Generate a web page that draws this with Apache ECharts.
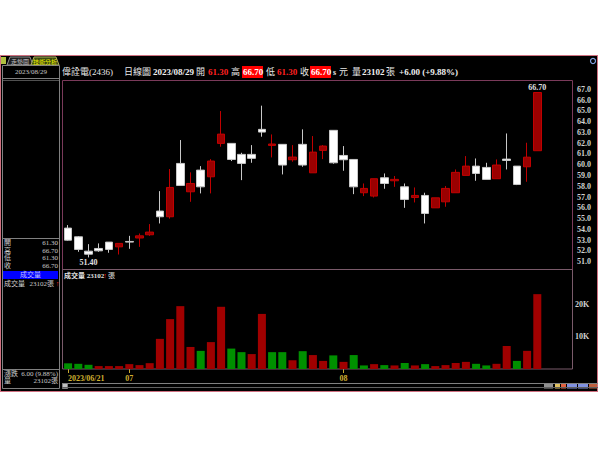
<!DOCTYPE html>
<html>
<head>
<meta charset="utf-8">
<script src="https://cdn.jsdelivr.net/npm/echarts/dist/echarts.min.js"></script>
<style>
html,body{margin:0;padding:0;background:#ffffff;}
#wrap{position:relative;width:600px;height:450px;}
#win{position:absolute;left:0;top:55px;width:596px;height:335px;background:#000;border:1px solid #d07080;}
#chart{position:absolute;left:0;top:0;width:600px;height:450px;}
</style>
</head>
<body>
<div id="wrap"><div id="win"></div><div id="chart"></div></div>
<script>
// ---------- data ----------
const dates = ['2023/06/21','2023/06/26','2023/06/27','2023/06/28','2023/06/29','2023/06/30',
  '2023/07/03','2023/07/04','2023/07/05','2023/07/06','2023/07/07','2023/07/10','2023/07/11','2023/07/12',
  '2023/07/13','2023/07/14','2023/07/17','2023/07/18','2023/07/19','2023/07/20','2023/07/21','2023/07/24',
  '2023/07/25','2023/07/26','2023/07/27','2023/07/28','2023/07/31',
  '2023/08/01','2023/08/02','2023/08/04','2023/08/07','2023/08/08','2023/08/09','2023/08/10','2023/08/11',
  '2023/08/14','2023/08/15','2023/08/16','2023/08/17','2023/08/18','2023/08/21','2023/08/22','2023/08/23',
  '2023/08/24','2023/08/25','2023/08/28','2023/08/29'];
const opens  = [54.12,53.31,51.98,52.23,52.82,52.38,52.88,53.20,53.50,55.70,55.17,60.12,57.49,59.50,58.88,61.98,61.98,60.96,60.96,63.28,61.79,61.89,60.46,61.89,59.25,61.33,63.19,60.86,60.49,57.40,57.09,58.79,58.51,57.95,56.96,57.15,56.00,56.56,57.40,59.01,59.87,59.75,58.70,60.52,59.87,59.81,61.30];
const closes = [53.00,52.14,51.70,52.01,52.14,52.70,52.82,53.40,53.75,55.17,57.89,58.08,58.26,57.95,60.34,62.84,60.49,60.12,60.59,63.03,61.92,59.97,60.71,59.97,61.17,61.73,60.18,60.46,57.95,57.80,58.70,58.26,58.64,56.78,57.15,55.48,56.93,57.80,59.29,59.87,59.19,58.64,59.97,60.40,58.17,60.70,66.70];
const lows   = [52.95,51.92,51.40,51.92,51.83,51.67,52.20,52.38,53.40,54.55,55.00,58.08,56.56,57.34,57.34,61.67,60.34,58.57,60.18,62.60,60.68,59.10,60.28,59.81,59.25,60.52,60.09,59.44,57.27,57.09,56.96,57.77,57.95,56.00,56.50,54.55,56.00,56.10,57.40,59.01,58.51,58.64,58.70,59.56,58.11,58.42,61.30];
const highs  = [54.40,53.37,52.63,52.70,52.82,52.70,53.40,53.62,54.49,57.55,59.60,62.29,59.29,59.87,60.52,64.98,61.98,61.11,61.82,65.48,62.81,61.89,61.82,63.28,62.66,61.82,63.19,61.73,60.49,58.26,58.70,59.19,58.95,58.26,57.89,57.40,56.93,58.02,59.56,60.80,60.58,60.18,60.49,62.90,59.87,62.04,66.70];
const volumes = [1750,1600,1300,900,900,900,1500,1200,1800,9300,15400,19400,6800,5600,8300,19200,6300,5200,4600,17000,5200,5200,2700,5500,4300,2500,4200,2200,4300,1100,1500,1200,1100,1850,1100,1500,900,1200,1850,2200,1600,1100,1600,7100,2500,5600,23102];
const tickIdx  = [0, 6, 27];
const tickText = ['2023/06/21', '07', '08'];
const priceTicks = [51,52,53,54,55,56,57,58,59,60,61,62,63,64,65,66,67];
const volTickText = {10000:'10K', 20000:'20K'};

// ---------- chart ----------
const RED='#9a0000', RED_B='#c00000', GREEN='#009000';
const FONT='"Liberation Serif","Noto Sans CJK TC",serif';
const chart = echarts.init(document.getElementById('chart'), null, {renderer:'svg'});

const candleData = opens.map((o,i)=>[o, closes[i], lows[i], highs[i]]);
const volData = volumes.map((v,i)=>{
  const up = i===0 ? closes[0]>=opens[0] : closes[i]>=closes[i-1];
  return {value:v, itemStyle:{color: up?'#a00000':GREEN}};
});

function txt(x,y,text,opt){
  opt = opt||{};
  return {type:'text', x:x, y:y, z:100, silent:true, style:{
    text:text, fill:opt.fill||'#e0e0e0',
    font:(opt.bold===false?'':'bold ')+(opt.size||9)+'px '+FONT,
    align:opt.align||'left', verticalAlign:'middle'}};
}
function rect(x,y,w,h,fill,stroke,z){
  return {type:'rect', z:z||1, silent:true, shape:{x:x,y:y,width:w,height:h},
    style:{fill:fill||'none', stroke:stroke||null, lineWidth:1}};
}
function line(x1,y1,x2,y2,c){
  return {type:'line', z:5, silent:true, shape:{x1:x1,y1:y1,x2:x2,y2:y2}, style:{stroke:c, lineWidth:1}};
}

const showTick = (i)=>tickIdx.indexOf(i)>=0;

const graphics = [
  // tabs
  rect(1,57,5,7,'#b0c040',null,2),
  {type:'polygon', z:2, silent:true, shape:{points:[[7,65],[10,57],[30,57],[33,65]]}, style:{fill:'#202020',stroke:'#909090'}},
  {type:'polygon', z:2, silent:true, shape:{points:[[31,65],[34,57],[56,57],[59,65]]}, style:{fill:'#3a4a10',stroke:'#b0b060'}},
  txt(20,61.5,'走勢圖',{size:6,fill:'#c0c0c0',bold:false,align:'center'}),
  txt(45,61.5,'技術分析',{size:6,fill:'#f0f000',bold:false,align:'center'}),
  {type:'circle', z:2, silent:true, shape:{cx:593,cy:61,r:2.5}, style:{fill:'none',stroke:'#80a0e0',lineWidth:1.2}},
  // left panel
  rect(2.5,65.5,57,323,null,'#808080',2),
  line(3,78.5,59,78.5,'#808080'),
  line(3,80.5,59,80.5,'#505050'),
  txt(31,72,'2023/08/29',{size:7,fill:'#c8c8c8',bold:false,align:'center'}),
  line(3,238.5,59,238.5,'#808080'),
  txt(4,243,'開',{size:7,bold:false,fill:'#d0d0d0'}), txt(58,243,'61.30',{size:7,bold:false,align:'right',fill:'#c8c8c8'}),
  txt(4,250.5,'高',{size:7,bold:false,fill:'#d0d0d0'}), txt(58,250.5,'66.70',{size:7,bold:false,align:'right',fill:'#c8c8c8'}),
  txt(4,258,'低',{size:7,bold:false,fill:'#d0d0d0'}), txt(58,258,'61.30',{size:7,bold:false,align:'right',fill:'#c8c8c8'}),
  txt(4,265.5,'收',{size:7,bold:false,fill:'#d0d0d0'}), txt(58,265.5,'66.70',{size:7,bold:false,align:'right',fill:'#c8c8c8'}),
  rect(3,271,55,8,'#0000ff',null,3),
  txt(30.5,275,'成交量',{size:7,bold:false,align:'center',fill:'#c0c0ff'}),
  txt(4,283.5,'成交量',{size:7,bold:false,fill:'#d0d0d0'}),
  txt(54,283.5,'23102張',{size:7,bold:false,align:'right',fill:'#c8c8c8'}),
  txt(57.5,283.5,'↑',{size:7,align:'center',fill:'#ff2020'}),
  line(3,369.5,59,369.5,'#808080'),
  txt(4,373.5,'漲跌',{size:7,bold:false,fill:'#d0d0d0'}), txt(58,373.5,'6.00 (9.88%)',{size:7,bold:false,align:'right',fill:'#c8c8c8'}),
  txt(4,380.5,'量',{size:7,bold:false,fill:'#d0d0d0'}), txt(58,380.5,'23102張',{size:7,bold:false,align:'right',fill:'#c8c8c8'}),
  // title row
  txt(62,72,'偉詮電(2436)',{size:9,bold:false,fill:'#e8e8e8'}),
  txt(124,72,'日線圖',{size:9,bold:false,fill:'#e8e8e8'}),
  txt(153,72,'2023/08/29',{size:9,fill:'#f0f0f0'}),
  txt(196,72,'開',{size:9,bold:false,fill:'#e8e8e8'}),
  txt(208,72,'61.30',{size:9,fill:'#ff2020'}),
  txt(231,72,'高',{size:9,bold:false,fill:'#e8e8e8'}),
  rect(242,66,21,12,'#ff0000',null,3),
  txt(243,72,'66.70',{size:9,fill:'#ffffff'}),
  txt(266,72,'低',{size:9,bold:false,fill:'#e8e8e8'}),
  txt(277,72,'61.30',{size:9,fill:'#ff2020'}),
  txt(300,72,'收',{size:9,bold:false,fill:'#e8e8e8'}),
  rect(310,66,21,12,'#ff0000',null,3),
  txt(311,72,'66.70',{size:9,fill:'#ffffff'}),
  txt(333,72,'s',{size:8,fill:'#e8e8e8'}),
  txt(339,72,'元',{size:9,bold:false,fill:'#e8e8e8'}),
  txt(352,72,'量',{size:9,bold:false,fill:'#e8e8e8'}),
  txt(362,72,'23102',{size:9,fill:'#f0f0f0'}),
  txt(386,72,'張',{size:9,bold:false,fill:'#e8e8e8'}),
  txt(399,72,'+6.00 (+9.88%)',{size:9,fill:'#f0f0f0'}),
  // panel borders
  rect(62.5,80.5,510,189,null,'#7a3a5a',2),
  rect(62.5,269.5,510,99.5,null,'#7a5a6a',2),
  // volume title
  txt(64,275.5,'成交量 23102',{size:7,fill:'#e0e0e0'}),
  txt(105,275.5,'↑',{size:7,fill:'#ff2020',align:'center'}),
  txt(108,275.5,'張',{size:7,bold:false,fill:'#e0e0e0'}),
  // scrollbar
  line(62,383.5,598,383.5,'#808080'),
  line(62,387.5,598,387.5,'#606060'),
  rect(62.5,383.5,5,5,'#c0c0c0','#808080',3),
  rect(544,383.5,9,5,'#909090',null,3),
  rect(555,383.5,5,5,'#e0c060',null,3),
  rect(561,383.5,5,5,'#e06040',null,3),
  rect(567,383.5,10,5,'#8090e0',null,3),
  rect(578,383.5,10,5,'#8090e0',null,3),
  rect(589,383.5,8,5,'#c06040',null,3)
];

const option = {
  animation:false,
  backgroundColor:'transparent',
  graphic: graphics,
  grid:[
    {left:63, top:78.5, width:510, height:194},
    {left:63, top:271.8, width:510, height:97.2}
  ],
  xAxis:[
    {type:'category', gridIndex:0, data:dates, max:49, boundaryGap:true, show:false},
    {type:'category', gridIndex:1, data:dates, max:49, boundaryGap:true,
      axisLine:{show:false},
      axisTick:{show:true, interval:(i)=>showTick(i), alignWithLabel:true, length:4, lineStyle:{color:'#c8a830'}},
      axisLabel:{show:true, interval:(i)=>showTick(i), formatter:(v,i)=>{const k=tickIdx.indexOf(i); return k>=0?tickText[k]:'';},
        color:'#d0b030', fontSize:8, fontWeight:'bold', fontFamily:FONT, margin:5, alignMinLabel:'left'},
      splitLine:{show:false}}
  ],
  yAxis:[
    {type:'value', gridIndex:0, position:'right', min:50, max:68, interval:1,
      axisLine:{show:false}, axisTick:{show:false}, splitLine:{show:false},
      axisLabel:{formatter:(v)=>priceTicks.indexOf(Math.round(v*10)/10)>=0?v.toFixed(1):'', color:'#d0d0d0', fontSize:8, fontWeight:'bold', fontFamily:FONT, margin:4}},
    {type:'value', gridIndex:1, position:'right', min:0, max:30000, interval:10000,
      axisLine:{show:false}, axisTick:{show:false}, splitLine:{show:false},
      axisLabel:{formatter:(v)=>volTickText[v]||'', color:'#d0d0d0', fontSize:8, fontWeight:'bold', fontFamily:FONT, margin:2}}
  ],
  series:[
    {type:'candlestick', xAxisIndex:0, yAxisIndex:0, data:candleData, barWidth:8,
      itemStyle:{color:RED, color0:'#ffffff', borderColor:RED_B, borderColor0:'#c8c8c8', borderWidth:1},
      markPoint:{symbol:'circle', symbolSize:1, itemStyle:{color:'rgba(0,0,0,0)'},
        label:{show:true, color:'#e0e0e0', fontSize:8, fontWeight:'bold', fontFamily:FONT},
        data:[
          {coord:[2, lows[2]], value:lows[2], label:{position:'bottom', distance:1, formatter:lows[2].toFixed(2)}},
          {coord:[46, highs[46]], value:highs[46], label:{position:'top', distance:1, formatter:highs[46].toFixed(2)}}
        ]}
    },
    {type:'bar', xAxisIndex:1, yAxisIndex:1, data:volData, barWidth:8}
  ]
};
chart.setOption(option);
</script>
</body>
</html>
